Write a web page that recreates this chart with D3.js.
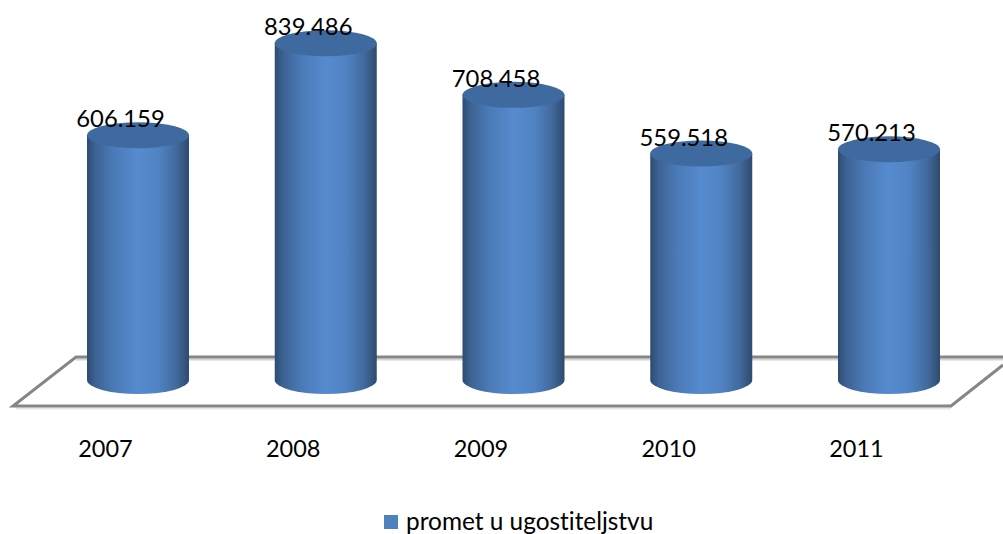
<!DOCTYPE html>
<html><head><meta charset="utf-8">
<script src="https://cdn.jsdelivr.net/npm/d3@7/dist/d3.min.js"></script>
<style>html,body{margin:0;padding:0;background:#fff}svg{display:block}text{font-family:Lato,"Noto Sans",sans-serif;fill:#000;font-variant-ligatures:none}</style>
</head><body><svg id="c" width="1003" height="534"></svg>
<script>
const categories = ["2007","2008","2009","2010","2011"];
const values = [606.159,839.486,708.458,559.518,570.213];
const valueLabels = ["606.159","839.486","708.458","559.518","570.213"];
const seriesName = "promet u ugostiteljstvu";

const svg = d3.select("#c");
const x = d3.scalePoint().domain(categories).range([138,889]);
const y = d3.scaleLinear().domain([0,900]).range([374,19.4]);
const rx = 51, ryTop = 13, ryBot = 14, baseY = 380;

const defs = svg.append("defs");
const g = defs.append("linearGradient").attr("id","cyl");
[[0,"#2d4b72"],[0.08,"#3c6292"],[0.25,"#4a79b5"],[0.5,"#568bd0"],[0.7,"#5083c3"],[0.88,"#41699c"],[1,"#2e4a6e"]]
  .forEach(([o,c])=>g.append("stop").attr("offset",o).attr("stop-color",c));

// floor
const line = d3.line();
svg.append("path").attr("d",line([[16,408.5],[951,408.5]])).attr("stroke","#e6e6e6").attr("stroke-width",2).attr("fill","none");
svg.append("path").attr("d",line([[76,359.5],[1003,359.5]])).attr("stroke","#d4d4d4").attr("stroke-width",2).attr("fill","none");
svg.append("path").attr("d",line([[1003,357],[76,357],[13,406],[951,406],[1003,365]])).attr("stroke","#868686").attr("stroke-width",3).attr("fill","none").attr("stroke-linejoin","miter");

// cylinders
const bars = svg.selectAll("g.bar").data(categories.map((c,i)=>({c,v:values[i],l:valueLabels[i]}))).join("g").attr("class","bar");
bars.append("path")
  .attr("d",d=>{const cx=x(d.c),t=y(d.v);
    return `M${cx-rx},${t}L${cx-rx},${baseY}A${rx},${ryBot} 0 0 0 ${cx+rx},${baseY}L${cx+rx},${t}Z`;})
  .attr("fill","url(#cyl)");
bars.append("ellipse").attr("cx",d=>x(d.c)).attr("cy",d=>y(d.v)).attr("rx",rx).attr("ry",ryTop).attr("fill","#3f6a9f");

// value labels
bars.append("text").attr("x",d=>x(d.c)-17.5).attr("y",d=>y(d.v)-8)
  .attr("text-anchor","middle").attr("font-size",23.8).text(d=>d.l);

// category labels
svg.selectAll("text.cat").data(categories).join("text").attr("class","cat")
  .attr("x",d=>x(d)-32.5).attr("y",457).attr("text-anchor","middle").attr("font-size",23.5).text(d=>d);

// legend
svg.append("rect").attr("x",384).attr("y",515).attr("width",14).attr("height",14).attr("fill","#4f81bd");
svg.append("text").attr("x",406).attr("y",530).attr("font-size",24.4).text(seriesName);
</script></body></html>
